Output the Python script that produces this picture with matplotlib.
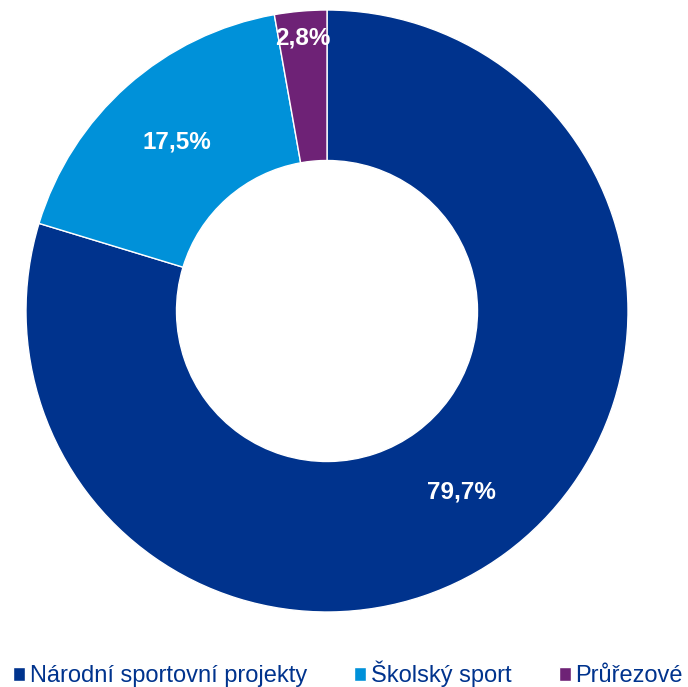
import matplotlib.pyplot as plt
import numpy as np

plt.rcParams['font.family'] = ['Liberation Sans', 'DejaVu Sans']

categories = ['Národní sportovní projekty', 'Školský sport', 'Průřezové']
values = [79.7, 17.5, 2.8]
labels = ['79,7%', '17,5%', '2,8%']
colors = ['#00338D', '#0091D9', '#6E2276']
label_dist = [0.75, 0.75, 0.91]

fig = plt.figure(figsize=(6.88, 6.87), dpi=100)
ax = fig.add_axes([26 / 688, 75 / 687, 602 / 688, 602 / 687])

wedges, _ = ax.pie(values, colors=colors, startangle=90, counterclock=False,
                   radius=1, wedgeprops=dict(width=0.5, edgecolor='white', linewidth=1))
ax.set_xlim(-1, 1)
ax.set_ylim(-1, 1)
ax.set_aspect('equal')

for w, lab, d in zip(wedges, labels, label_dist):
    ang = np.deg2rad((w.theta1 + w.theta2) / 2)
    ax.text(d * np.cos(ang), d * np.sin(ang), lab, ha='center', va='center',
            color='white', fontsize=17.5, fontweight='bold')

leg = fig.legend(wedges, categories, loc='center left', bbox_to_anchor=(13 / 688, 1 - 674 / 687),
                 ncol=3, frameon=False, fontsize=17, handlelength=0.51, handleheight=0.51,
                 handletextpad=0.2, columnspacing=2.0, borderaxespad=0, borderpad=0)
for t in leg.get_texts():
    t.set_color('#00338D')

plt.savefig('out.png', dpi=100)
